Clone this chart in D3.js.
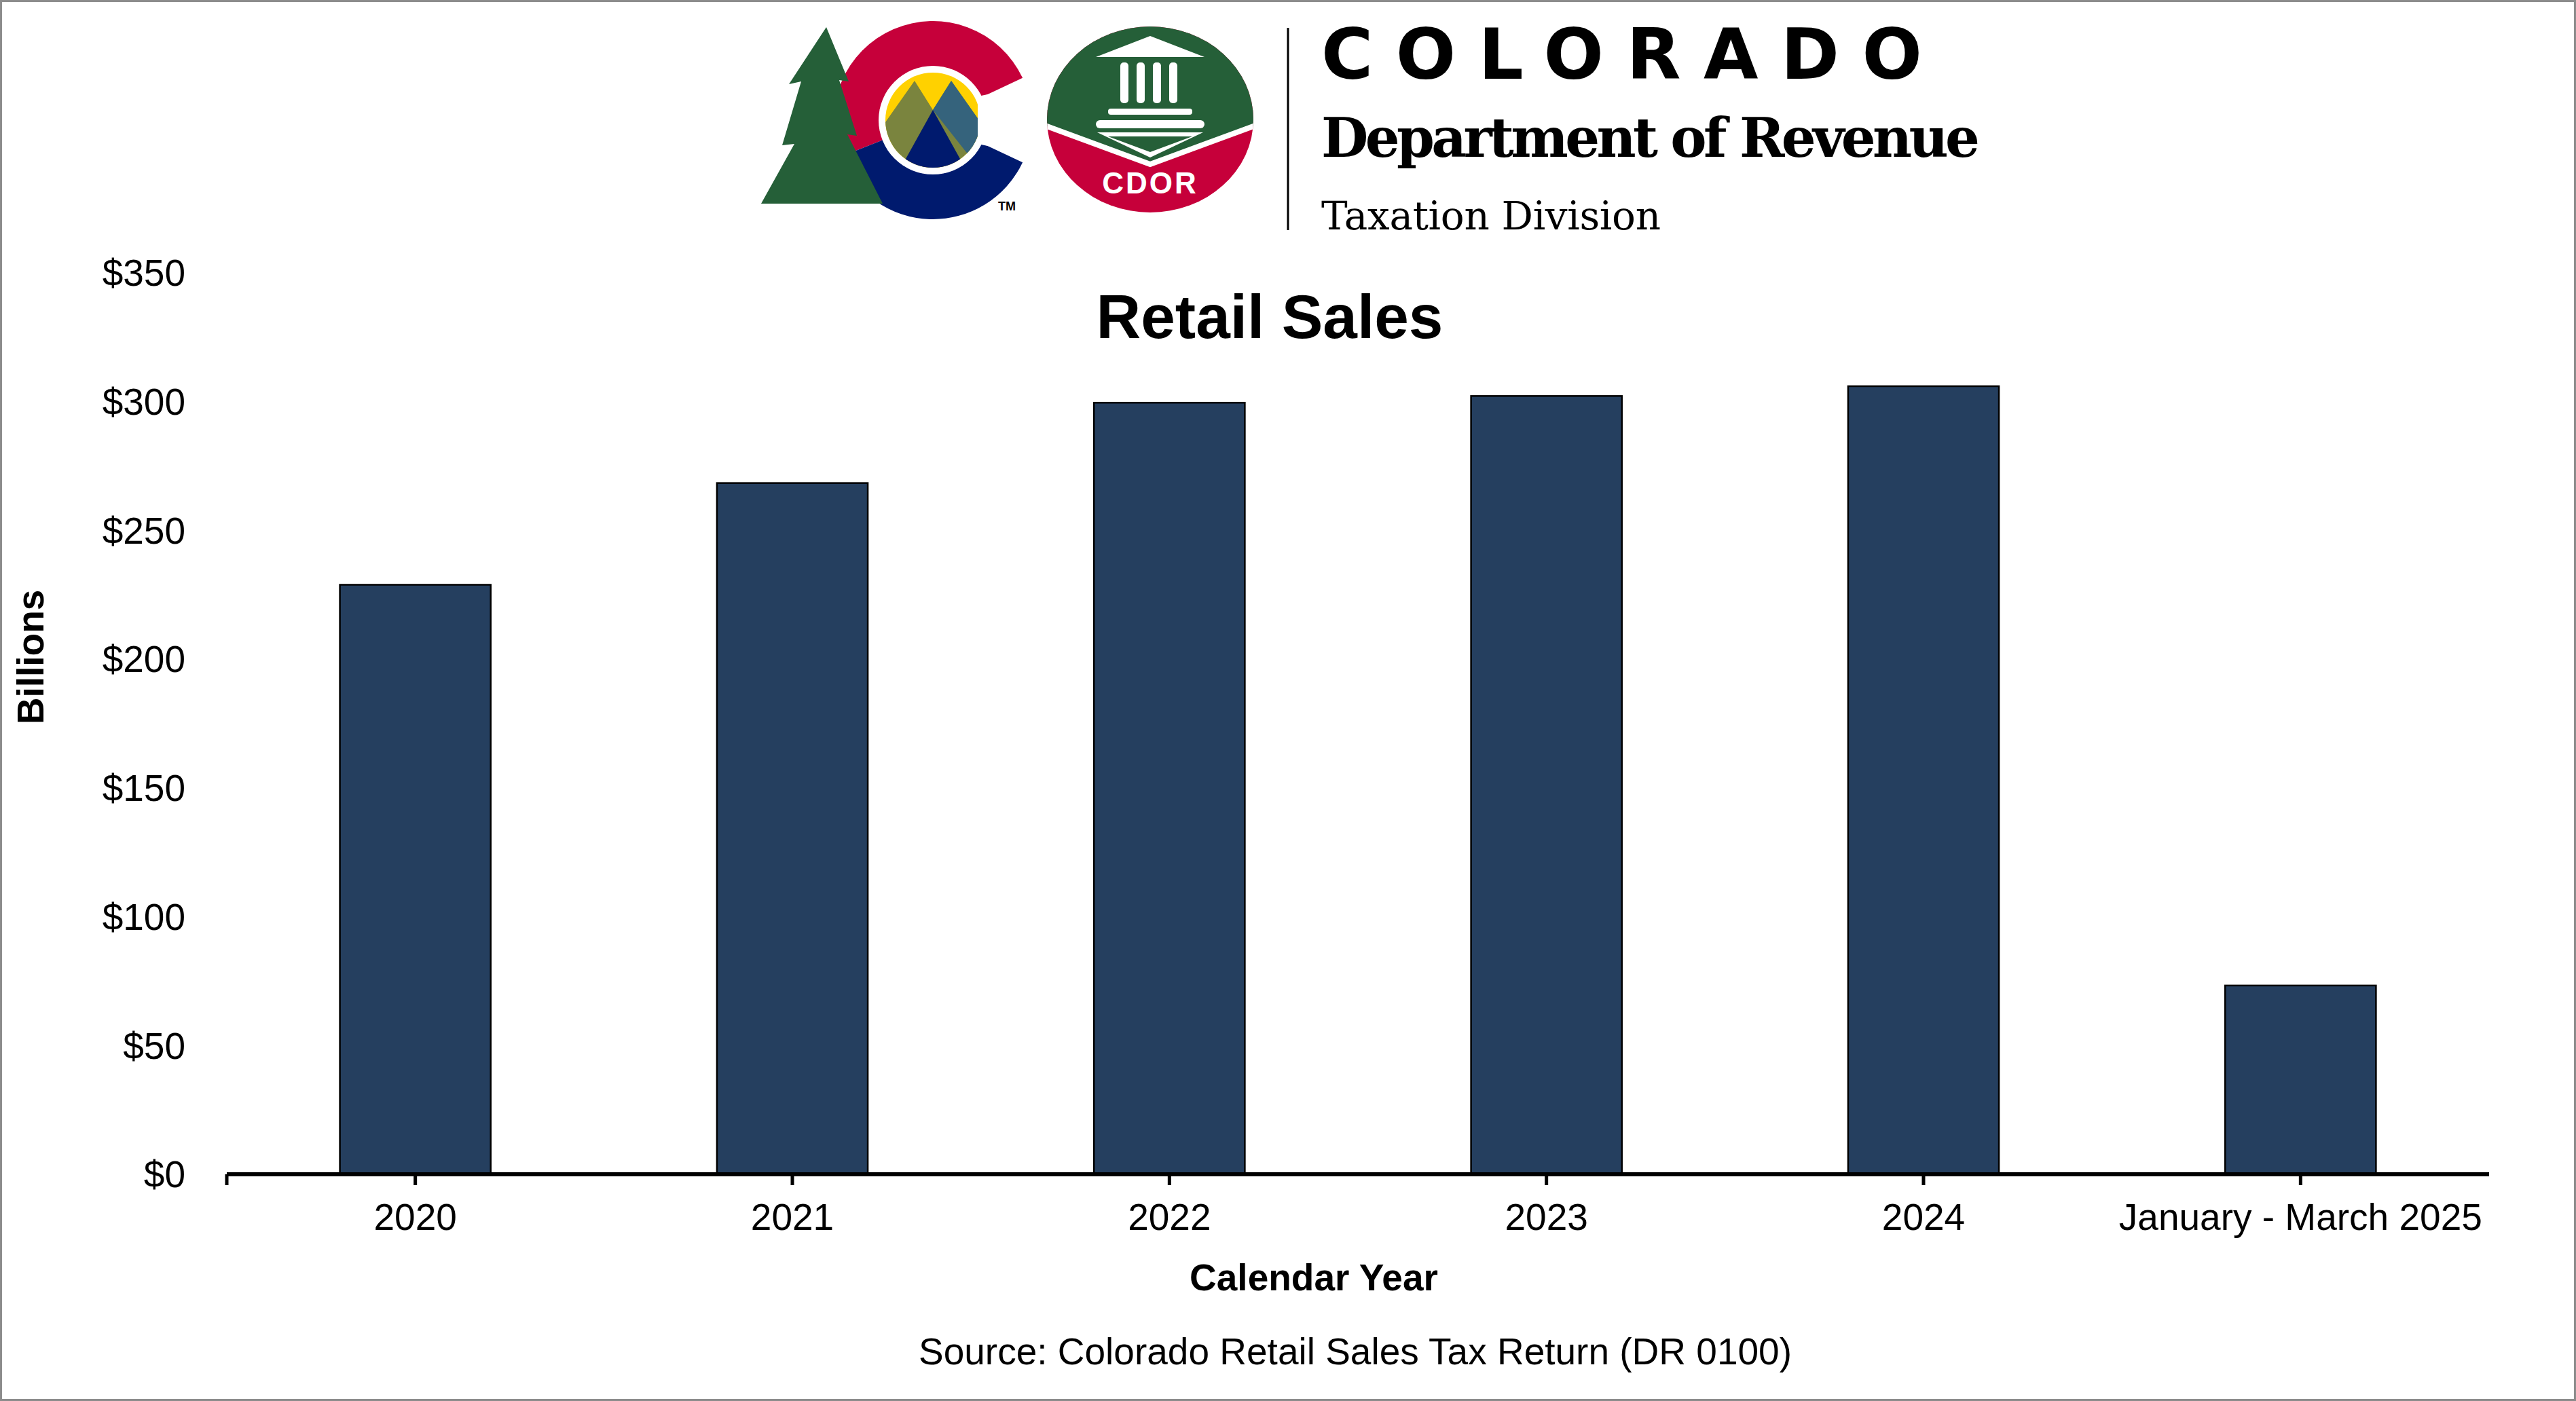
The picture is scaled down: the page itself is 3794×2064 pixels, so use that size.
<!DOCTYPE html>
<html>
<head>
<meta charset="utf-8">
<script src="https://cdn.jsdelivr.net/npm/d3@7"></script>
<style>
  body { margin: 0; background: #fff; }
  svg { display: block; font-family: "Liberation Sans", Arial, sans-serif; }
</style>
</head>
<body>
<svg id="chart" width="3794" height="2064"></svg>
<script>
const categories = ["2020", "2021", "2022", "2023", "2024", "January - March 2025"];
const salesBillions = [228.9, 268.4, 299.6, 302.2, 306.0, 73.3];
const yTicks = [0, 50, 100, 150, 200, 250, 300, 350];

const svg = d3.select("#chart");
const W = 3794, H = 2064;

svg.append("rect").attr("x", 1.5).attr("y", 1.5).attr("width", W - 3).attr("height", H - 3)
    .attr("fill", "#fff").attr("stroke", "#8c8c8c").attr("stroke-width", 3);

const plot = { left: 334, right: 3666, top: 402, bottom: 1730 };

const x = d3.scaleBand().domain(categories).range([plot.left, plot.right]).paddingInner(0.6).paddingOuter(0.3);
const y = d3.scaleLinear().domain([0, 350]).range([plot.bottom, plot.top]);

// bars
svg.append("g").selectAll("rect")
    .data(salesBillions)
    .enter()
    .append("rect")
    .attr("x", (d, i) => x(categories[i]))
    .attr("y", d => y(d))
    .attr("width", x.bandwidth())
    .attr("height", d => y(0) - y(d))
    .attr("fill", "#253f5f")
    .attr("stroke", "#000")
    .attr("stroke-width", 2.5);

// y axis labels (no axis line)
svg.append("g").selectAll("text")
    .data(yTicks)
    .enter()
    .append("text")
    .attr("x", 273)
    .attr("y", d => y(d))
    .attr("dy", "0.35em")
    .attr("text-anchor", "end")
    .attr("font-size", 55)
    .text(d => `$${d}`);

// x axis
const xAxis = svg.append("g").attr("transform", `translate(0,${plot.bottom})`);
xAxis.append("line").attr("x1", plot.left).attr("x2", plot.right)
    .attr("stroke", "#000").attr("stroke-width", 6);
const tickPos = categories.map(c => x(c) + x.bandwidth() / 2);
xAxis.selectAll("line.tick")
    .data([plot.left].concat(tickPos))
    .enter()
    .append("line")
    .attr("class", "tick")
    .attr("x1", d => d).attr("x2", d => d)
    .attr("y1", 0).attr("y2", 16)
    .attr("stroke", "#000").attr("stroke-width", 5);
xAxis.selectAll("text")
    .data(categories)
    .enter()
    .append("text")
    .attr("x", d => x(d) + x.bandwidth() / 2)
    .attr("y", 82)
    .attr("text-anchor", "middle")
    .attr("font-size", 55)
    .text(d => d);

// titles
svg.append("text").attr("x", 1870).attr("y", 498).attr("text-anchor", "middle")
    .attr("font-size", 91).attr("font-weight", "bold").text("Retail Sales");
svg.append("text").attr("transform", "translate(64,968) rotate(-90)").attr("text-anchor", "middle")
    .attr("font-size", 55).attr("font-weight", "bold").text("Billions");
svg.append("text").attr("x", 1935).attr("y", 1901).attr("text-anchor", "middle")
    .attr("font-size", 55).attr("font-weight", "bold").text("Calendar Year");
svg.append("text").attr("x", 1996).attr("y", 2010).attr("text-anchor", "middle")
    .attr("font-size", 55).text("Source: Colorado Retail Sales Tax Return (DR 0100)");

// logo
const logo = svg.append("g");
const arc = d3.arc();
const cx = 1374, cy = 177;
// C ring: red upper-left, blue lower
logo.append("path").attr("transform", `translate(${cx},${cy})`)
    .attr("d", arc({ innerRadius: 0, outerRadius: 146, startAngle: Math.PI * 1.38, endAngle: Math.PI * 2.36 }))
    .attr("fill", "#c6003a");
logo.append("path").attr("transform", `translate(${cx},${cy})`)
    .attr("d", arc({ innerRadius: 0, outerRadius: 146, startAngle: Math.PI * 0.64, endAngle: Math.PI * 1.38 }))
    .attr("fill", "#001a6e");
// tree, partly overlapping the C
logo.append("path")
    .attr("d", "M1217,40 L1250,120 L1236,118 L1262,200 L1248,198 L1300,300 L1121,300 L1170,212 L1152,214 L1180,120 L1162,124 Z")
    .attr("fill", "#255f38");
// inner emblem
logo.append("circle").attr("cx", cx).attr("cy", cy).attr("r", 80).attr("fill", "#fff");
logo.append("circle").attr("cx", cx).attr("cy", cy).attr("r", 70).attr("fill", "#ffd100");
logo.append("clipPath").attr("id", "inner").append("circle").attr("cx", cx).attr("cy", cy).attr("r", 70);
const inner = logo.append("g").attr("clip-path", "url(#inner)");
inner.append("path").attr("d", `M${cx - 75},${cy + 10} L${cx - 27},${cy - 58} L${cx},${cy - 15} L${cx + 27},${cy - 58} L${cx + 75},${cy + 10} L${cx + 75},${cy + 80} L${cx - 75},${cy + 80} Z`)
    .attr("fill", "#7a843e");
inner.append("path").attr("d", `M${cx},${cy - 15} L${cx + 27},${cy - 58} L${cx + 75},${cy + 10} L${cx + 75},${cy + 80} Z`)
    .attr("fill", "#35637c");
inner.append("path").attr("d", `M${cx - 75},${cy + 120} L${cx},${cy - 15} L${cx + 75},${cy + 120} Z`)
    .attr("fill", "#001a6e");
// opening of the C
logo.append("path").attr("d", `M${cx + 66},${cy - 35} L${cx + 150},${cy - 52} L${cx + 150},${cy + 52} L${cx + 66},${cy + 35} Z`).attr("fill", "#fff");
logo.append("text").attr("x", 1470).attr("y", 310).attr("font-size", 18).attr("font-weight", "bold").text("TM");

// CDOR badge
const bx = 1694, by = 176;
logo.append("ellipse").attr("cx", bx).attr("cy", by).attr("rx", 152).attr("ry", 137).attr("fill", "#c6003a");
logo.append("clipPath").attr("id", "badge").append("ellipse").attr("cx", bx).attr("cy", by).attr("rx", 152).attr("ry", 137);
const badge = logo.append("g").attr("clip-path", "url(#badge)");
badge.append("path").attr("d", `M${bx - 160},${by - 140} L${bx + 160},${by - 140} L${bx + 160},${by + 7} L${bx},${by + 66} L${bx - 160},${by + 7} Z`)
    .attr("fill", "#255f38");
badge.append("path").attr("d", `M${bx - 160},${by + 7} L${bx},${by + 66} L${bx + 160},${by + 7}`)
    .attr("fill", "none").attr("stroke", "#fff").attr("stroke-width", 8);
logo.append("path").attr("d", `M${bx - 80},${by - 92} L${bx},${by - 123} L${bx + 80},${by - 92} Z`).attr("fill", "#fff");
[-38, -14, 10, 34].forEach(dx => {
    logo.append("rect").attr("x", bx + dx - 6).attr("y", by - 84).attr("width", 12).attr("height", 60).attr("rx", 5).attr("fill", "#fff");
});
logo.append("rect").attr("x", bx - 62).attr("y", by - 16).attr("width", 124).attr("height", 9).attr("rx", 4).attr("fill", "#fff");
logo.append("rect").attr("x", bx - 80).attr("y", by + 1).attr("width", 160).attr("height", 12).attr("rx", 6).attr("fill", "#fff");
logo.append("path").attr("d", `M${bx - 78},${by + 19} L${bx + 78},${by + 19} L${bx},${by + 56} Z`).attr("fill", "#fff");
logo.append("path").attr("d", `M${bx - 62},${by + 25} L${bx + 62},${by + 25} L${bx},${by + 48} Z`).attr("fill", "#255f38");
logo.append("text").attr("x", bx).attr("y", by + 109).attr("text-anchor", "middle")
    .attr("font-size", 44).attr("font-weight", "bold").attr("fill", "#fff").attr("letter-spacing", 3).text("CDOR");

// divider + wordmark
logo.append("line").attr("x1", 1897).attr("x2", 1897).attr("y1", 41).attr("y2", 339)
    .attr("stroke", "#000").attr("stroke-width", 3);
logo.append("text").attr("x", 1946).attr("y", 116).attr("font-size", 104).attr("font-weight", "bold")
    .attr("font-family", "DejaVu Sans").attr("textLength", 885).attr("lengthAdjust", "spacing").text("COLORADO");
logo.append("text").attr("x", 1946).attr("y", 231).attr("font-size", 80).attr("font-weight", "bold")
    .attr("font-family", "DejaVu Serif").attr("textLength", 970).text("Department of Revenue");
logo.append("text").attr("x", 1946).attr("y", 338).attr("font-size", 58)
    .attr("font-family", "DejaVu Serif").attr("textLength", 500).text("Taxation Division");
</script>
</body>
</html>
